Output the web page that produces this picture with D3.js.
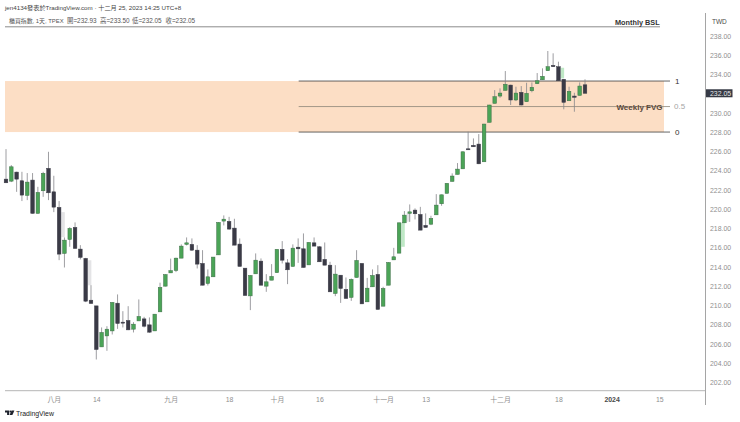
<!DOCTYPE html>
<html>
<head>
<meta charset="utf-8">
<script src="https://cdn.jsdelivr.net/npm/d3@7"></script>
<style>
  html, body { margin: 0; padding: 0; background: #fff; }
  svg { display: block; }
  text { font-family: "Liberation Sans", "Noto Sans CJK TC", sans-serif; }
  .axis text { fill: #8f8f8f; font-size: 6.9px; }
  .axis path, .axis line { display: none; }
</style>
</head>
<body>
<svg id="chart" width="740" height="422"></svg>
<script>
// candles, oldest first
const opens = [223.13,222.92,223.86,222.96,221.44,223.03,219.57,221.92,224.25,221.81,
  220.19,215.41,216.86,218.11,215.86,214.89,210.55,209.96,205.7,206.84,
  207.36,210.24,208.27,208.44,207.54,208.4,208.61,207.99,207.36,209.34,
  212.01,213.39,213.64,214.92,216.35,216.35,215.75,214.37,212.29,212.98,
  215.26,218.77,218.74,218.04,216.38,213.88,211.0,213.29,214.61,212.01,
  212.63,213.41,215.83,214.43,214.06,216.06,215.89,214.22,216.51,216.1,
  214.79,214.19,211.25,213.15,211.67,210.84,212.91,214.37,210.38,211.94,
  213.23,209.93,212.11,214.74,215.44,218.59,219.57,219.91,219.46,218.32,
  218.45,219.42,220.57,221.65,222.89,223.62,224.2,226.28,226.64,226.77,
  224.93,229.03,231.0,231.76,232.35,232.9,231.35,232.15,231.17,232.31,
  233.04,233.45,234.39,234.95,234.81,233.5,231.27,231.76,231.83,232.93];
const highs = [226.25,224.59,223.9,223.89,223.76,223.76,222.33,223.89,225.97,223.48,
  220.85,217.07,218.14,218.63,216.27,214.95,212.11,209.96,207.72,207.85,
  210.35,211.15,209.41,209.93,208.27,210.63,208.82,208.76,209.1,212.37,
  213.26,214.87,214.97,216.35,217.07,216.97,216.27,215.75,213.75,215.03,
  218.66,219.36,219.21,219.01,216.97,213.88,213.15,215.41,214.89,213.26,
  214.3,215.86,216.69,214.82,216.35,216.97,217.49,216.58,217.07,216.17,
  216.55,214.54,214.19,213.15,212.91,212.81,215.75,214.4,212.87,213.75,
  214.19,211.94,214.5,215.99,218.61,219.81,220.5,220.09,220.25,219.57,
  219.32,221.57,221.52,222.72,223.73,224.8,226.0,228.05,227.36,227.81,
  228.88,230.85,232.38,232.56,234.36,232.94,232.73,232.8,233.14,233.18,
  234.15,234.64,236.44,236.2,235.33,233.53,232.73,232.1,233.18,233.5];
const lows = [222.72,222.82,221.81,220.85,220.95,219.55,219.55,221.29,220.95,219.7,
  214.71,213.95,216.1,215.9,214.79,210.35,210.2,204.39,205.7,205.29,
  206.99,207.57,207.72,207.44,207.2,208.4,207.72,207.16,207.36,209.34,
  211.98,213.39,213.47,214.92,216.24,215.68,213.85,212.1,212.08,212.98,
  215.26,218.32,217.86,216.27,214.06,211.04,209.52,213.29,212.11,211.42,
  212.63,213.41,214.37,212.22,214.04,214.43,213.95,214.22,216.17,214.54,
  214.19,211.42,210.97,210.27,210.73,210.48,212.91,210.17,210.38,211.94,
  209.59,209.93,212.11,214.74,215.44,218.59,218.69,218.94,217.83,218.11,
  218.35,219.42,220.36,221.65,222.89,223.62,224.2,226.18,226.49,224.69,
  224.93,229.03,231.0,231.58,232.35,230.83,231.24,230.79,231.17,232.15,
  233.01,233.45,234.39,234.81,233.35,230.38,231.27,230.13,231.83,232.05];
const closes = [222.75,224.41,223.13,221.47,222.82,219.57,221.75,223.73,221.71,220.22,
  215.34,216.79,218.01,215.93,215.0,210.45,210.21,205.43,207.2,207.54,
  210.32,208.13,208.2,207.47,208.06,208.86,207.85,207.23,209.1,211.88,
  213.21,213.62,214.92,216.17,216.51,215.75,214.3,212.11,212.98,215.03,
  218.63,218.97,217.94,216.27,214.06,211.04,213.12,214.71,212.11,212.46,
  213.02,215.83,214.71,213.71,215.96,215.89,213.95,216.55,216.17,214.54,
  214.19,211.42,213.26,211.77,210.73,212.71,214.68,210.17,211.8,213.12,
  209.59,211.77,214.47,215.06,218.59,219.39,219.73,219.53,217.83,218.11,
  219.05,220.43,221.5,222.69,223.45,224.17,225.97,226.18,226.49,224.72,
  228.85,230.83,231.69,232.07,232.98,231.35,232.07,230.83,232.04,232.67,
  233.35,233.81,234.81,234.81,233.35,231.11,232.25,231.63,232.8,232.05];

// faint offset bars that show behind a few candles: [bar index, top price, bottom price, colour]
const ghostBars = [
  [10.75, 219.7, 217.1, "#e4e4e6"],
  [15.75, 214.7, 212.1, "#e4e4e6"],
  [74.75, 218.6, 216.1, "#bfe8c6"],
  [75.75, 219.6, 218.7, "#e4e4e6"],
  [104.75, 234.7, 233.6, "#bfe8c6"]
];

const priceTicks = d3.range(202, 239, 2);
const timeTicks = [9, 17, 31, 42, 51, 59, 71, 79, 93, 104, 114, 123];
const timeLabels = ["八月", "14", "九月", "18", "十月", "16", "十一月", "13", "十二月", "18", "2024", "15"];

const fvgTop = 233.32, fvgMid = 230.67, fvgBottom = 228.02;
const fibStartBar = 55.1;
const lastPrice = 232.05;
const ohlcLabels = ["開=232.93", "高=233.50", "低=232.05", "收=232.05"];
const ohlcLabelX = [67, 100, 132, 165.5];

const svg = d3.select("#chart");

const x = d3.scaleLinear().domain([0, 109]).range([6, 585]);
const y = d3.scaleLinear().domain([202, 238]).range([382.5, 36]);

// weekly FVG box
svg.append("rect")
  .attr("x", 5).attr("width", 659)
  .attr("y", y(fvgTop)).attr("height", y(fvgBottom) - y(fvgTop))
  .attr("fill", "#fcdec5");

// fib lines
[[fvgTop, "1", "#3f3f3f"], [fvgMid, "0.5", "#8d8578"], [fvgBottom, "0", "#3f3f3f"]].forEach(function(f) {
  svg.append("line")
    .attr("x1", x(fibStartBar)).attr("x2", 670)
    .attr("y1", y(f[0])).attr("y2", y(f[0]))
    .attr("stroke", f[2]).attr("stroke-width", 0.8);
  svg.append("text")
    .attr("x", f[1] == "0.5" ? 674 : 675).attr("y", y(f[0]) + 2.6)
    .attr("font-size", 8)
    .attr("fill", f[1] == "0.5" ? "#a5a5a5" : "#333")
    .text(f[1]);
});

svg.append("text")
  .attr("x", 639.5).attr("y", y(fvgMid) + 3)
  .attr("text-anchor", "middle")
  .attr("font-size", 8).attr("font-weight", "bold")
  .attr("fill", "#5b4a3c")
  .text("Weekly FVG");

// ghost bars
svg.append("g").selectAll("rect")
  .data(ghostBars)
  .enter().append("rect")
    .attr("x", function(d) { return x(d[0]) - 1.7; })
    .attr("width", 3.4)
    .attr("y", function(d) { return y(d[1]); })
    .attr("height", function(d) { return y(d[2]) - y(d[1]); })
    .attr("fill", function(d) { return d[3]; });

// candles
const bars = d3.range(opens.length);

svg.append("g").selectAll("line")
  .data(bars)
  .enter().append("line")
    .attr("x1", function(i) { return x(i); })
    .attr("x2", function(i) { return x(i); })
    .attr("y1", function(i) { return y(highs[i]); })
    .attr("y2", function(i) { return y(lows[i]); })
    .attr("stroke", "#85858a")
    .attr("stroke-width", 0.8);

svg.append("g").selectAll("rect")
  .data(bars)
  .enter().append("rect")
    .attr("x", function(i) { return x(i) - 1.8; })
    .attr("width", 3.6)
    .attr("y", function(i) { return y(Math.max(opens[i], closes[i])); })
    .attr("height", function(i) { return Math.max(1, Math.abs(y(opens[i]) - y(closes[i]))); })
    .attr("fill", function(i) { return closes[i] >= opens[i] ? "#4ba457" : "#3a3a46"; })
    .attr("stroke", function(i) { return closes[i] >= opens[i] ? "#3c6e47" : "#3a3a46"; })
    .attr("stroke-width", 0.5);

// frame lines
svg.append("line").attr("x1", 5).attr("x2", 660).attr("y1", 26.8).attr("y2", 26.8)
  .attr("stroke", "#6e6e6e").attr("stroke-width", 0.8);
svg.append("line").attr("x1", 5).attr("x2", 705.5).attr("y1", 390.7).attr("y2", 390.7)
  .attr("stroke", "#b5b5b5").attr("stroke-width", 1);
svg.append("line").attr("x1", 705.5).attr("x2", 705.5).attr("y1", 13).attr("y2", 405)
  .attr("stroke", "#a5a5a5").attr("stroke-width", 1);

// price axis
svg.append("g")
  .attr("class", "axis")
  .attr("transform", "translate(706,0)")
  .call(d3.axisRight(y).tickValues(priceTicks).tickSize(0).tickPadding(4).tickFormat(d3.format(".2f")));

// time axis, ticks are bar positions
svg.append("g")
  .attr("class", "axis x-axis")
  .attr("transform", "translate(0,391)")
  .call(d3.axisBottom(x).tickValues(timeTicks).tickSize(0).tickPadding(6)
    .tickFormat(function(d, i) { return timeLabels[i]; }));

svg.selectAll(".x-axis text")
  .filter(function() { return this.textContent == "2024"; })
  .style("fill", "#4a4a4a").style("font-weight", "bold");

// last price tag
svg.append("rect")
  .attr("x", 706).attr("width", 26.5)
  .attr("y", y(lastPrice) - 4).attr("height", 8)
  .attr("fill", "#363a45");
svg.append("text")
  .attr("x", 710).attr("y", y(lastPrice) + 2.5)
  .attr("font-size", 6.9).attr("fill", "#e8e8e8")
  .text(d3.format(".2f")(lastPrice));

svg.append("text").attr("x", 712).attr("y", 24)
  .attr("font-size", 6.5).attr("fill", "#4a4a4a").text("TWD");

// header texts
svg.append("text").attr("x", 5).attr("y", 10.3)
  .attr("font-size", 6.2).attr("fill", "#444")
  .text("jen4134發表於TradingView.com · 十二月 25, 2023 14:25 UTC+8");
svg.append("text").attr("x", 9).attr("y", 23.3)
  .attr("font-size", 5.9).attr("fill", "#555")
  .text("櫃買指數, 1天, TPEX");
svg.append("g").selectAll("text")
  .data(ohlcLabels)
  .enter().append("text")
    .attr("x", function(d, i) { return ohlcLabelX[i]; })
    .attr("y", 23.3)
    .attr("font-size", 6.4).attr("fill", "#555")
    .text(function(d) { return d; });
svg.append("text").attr("x", 615).attr("y", 24.5)
  .attr("font-size", 7.3).attr("font-weight", "bold").attr("fill", "#333")
  .text("Monthly BSL");

// TradingView logo
const logo = svg.append("g").attr("transform", "translate(5,410.5)").attr("fill", "#1e222d");
logo.append("path").attr("d", "M0 0H4.2V4.6H2.1V2H0Z");
logo.append("circle").attr("cx", 5.4).attr("cy", 1).attr("r", 0.9);
logo.append("path").attr("d", "M6.5 0H9.4L7.4 4.6H4.6Z");
svg.append("text").attr("x", 16).attr("y", 416)
  .attr("font-size", 6.9).attr("fill", "#222").text("TradingView");
</script>
</body>
</html>
